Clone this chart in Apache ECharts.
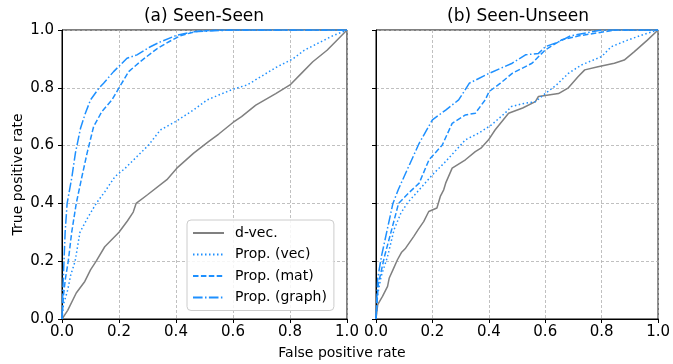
<!DOCTYPE html>
<html>
<head>
<meta charset="utf-8">
<script src="https://cdn.jsdelivr.net/npm/echarts@6/dist/echarts.min.js"></script>
<style>
  html, body { margin: 0; padding: 0; background: #fff; }
  #chart { width: 673px; height: 364px; }
</style>
</head>
<body>
<div id="chart"></div>
<script>
// ROC points [false positive rate, true positive rate]
const seriesNames = ['d-vec.', 'Prop. (vec)', 'Prop. (mat)', 'Prop. (graph)']

// (a) Seen-Seen
const seenDvec = [[0,0],[0.02,0.03],[0.05,0.09],[0.08,0.13],[0.1,0.17],[0.12,0.2],[0.15,0.25],[0.2,0.3],[0.23,0.34],[0.25,0.37],[0.26,0.4],[0.3,0.43],[0.368,0.482],[0.403,0.522],[0.462,0.574],[0.514,0.614],[0.55,0.64],[0.6,0.68],[0.63,0.7],[0.68,0.74],[0.75,0.78],[0.8,0.81],[0.84,0.85],[0.88,0.89],[0.93,0.93],[0.97,0.97],[1,1]]
const seenVec = [[0,0],[0.005,0.05],[0.02,0.1],[0.03,0.15],[0.046,0.2],[0.063,0.3],[0.09,0.35],[0.12,0.4],[0.15,0.44],[0.186,0.493],[0.22,0.52],[0.263,0.562],[0.304,0.602],[0.345,0.654],[0.398,0.683],[0.461,0.723],[0.509,0.758],[0.55,0.775],[0.6,0.795],[0.65,0.81],[0.7,0.84],[0.75,0.87],[0.81,0.9],[0.85,0.93],[0.89,0.95],[0.95,0.98],[1,1]]
const seenMat = [[0,0],[0.005,0.08],[0.012,0.14],[0.022,0.2],[0.034,0.3],[0.05,0.4],[0.07,0.493],[0.088,0.574],[0.111,0.666],[0.14,0.718],[0.175,0.758],[0.199,0.798],[0.234,0.856],[0.275,0.891],[0.333,0.935],[0.38,0.962],[0.415,0.98],[0.47,0.995],[0.55,1],[1,1]]
const seenGraph = [[0,0],[0.003,0.1],[0.007,0.2],[0.011,0.3],[0.018,0.4],[0.035,0.493],[0.047,0.574],[0.065,0.66],[0.082,0.712],[0.1,0.758],[0.129,0.798],[0.146,0.816],[0.181,0.856],[0.228,0.902],[0.263,0.914],[0.31,0.942],[0.345,0.959],[0.403,0.982],[0.462,0.994],[0.6,1],[1,1]]

// (b) Seen-Unseen
const unseenDvec = [[0,0],[0.006,0.05],[0.023,0.078],[0.041,0.113],[0.047,0.142],[0.06,0.17],[0.076,0.205],[0.09,0.23],[0.105,0.245],[0.134,0.286],[0.15,0.31],[0.169,0.337],[0.187,0.372],[0.216,0.384],[0.228,0.424],[0.24,0.447],[0.247,0.47],[0.27,0.522],[0.317,0.551],[0.352,0.579],[0.372,0.591],[0.399,0.62],[0.422,0.654],[0.47,0.712],[0.52,0.73],[0.565,0.752],[0.576,0.77],[0.647,0.78],[0.682,0.8],[0.717,0.839],[0.74,0.862],[0.787,0.873],[0.845,0.885],[0.88,0.896],[0.916,0.925],[0.962,0.965],[1,1]]
const unseenVec = [[0,0],[0.005,0.08],[0.018,0.147],[0.041,0.216],[0.064,0.309],[0.088,0.366],[0.111,0.401],[0.153,0.447],[0.2,0.499],[0.247,0.545],[0.317,0.62],[0.364,0.643],[0.41,0.672],[0.457,0.712],[0.48,0.735],[0.52,0.745],[0.565,0.752],[0.6,0.78],[0.64,0.81],[0.682,0.85],[0.728,0.879],[0.8,0.908],[0.834,0.942],[0.892,0.965],[0.95,0.985],[1,1]]
const unseenMat = [[0,0],[0.008,0.12],[0.03,0.216],[0.053,0.3],[0.08,0.4],[0.12,0.44],[0.153,0.47],[0.188,0.551],[0.235,0.602],[0.27,0.677],[0.317,0.706],[0.352,0.712],[0.387,0.758],[0.401,0.787],[0.44,0.815],[0.483,0.85],[0.553,0.885],[0.6,0.931],[0.658,0.966],[0.72,0.98],[0.85,1],[1,1]]
const unseenGraph = [[0,0],[0.006,0.14],[0.02,0.22],[0.04,0.31],[0.06,0.4],[0.08,0.45],[0.103,0.5],[0.153,0.608],[0.2,0.689],[0.247,0.723],[0.293,0.758],[0.331,0.816],[0.401,0.85],[0.483,0.885],[0.53,0.914],[0.576,0.919],[0.6,0.942],[0.65,0.96],[0.69,0.98],[0.8,1],[1,1]]

const gray = '#808080'
const blue = '#1e90ff'
const font = 'DejaVu Sans'

const styles = [
  { color: gray, type: 'solid' },
  { color: blue, type: [1.5, 2.5] },
  { color: blue, type: [5.5, 2.4] },
  { color: blue, type: [9.6, 2.4, 1.5, 2.4] },
]

function makeSeries(data, idx, axis) {
  return {
    name: seriesNames[idx],
    type: 'line',
    xAxisIndex: axis,
    yAxisIndex: axis,
    data,
    showSymbol: false,
    symbol: 'none',
    lineStyle: { color: styles[idx].color, type: styles[idx].type, width: 1.5 },
    itemStyle: { color: styles[idx].color },
    z: 3,
  }
}

const splitStyle = { color: '#b0b0b0', type: [3, 2], width: 0.8 }

function xAx(gridIndex) {
  return {
    type: 'value', gridIndex, min: 0, max: 1, interval: 0.2,
    axisLine: { show: true, onZero: false, lineStyle: { color: '#000', width: 1 } },
    axisTick: { show: true, length: 4, lineStyle: { color: '#000' } },
    axisLabel: { fontFamily: font, fontSize: 15, color: '#000', margin: 6, formatter: v => v.toFixed(1) },
    splitLine: { show: true, lineStyle: splitStyle },
  }
}

function yAx(gridIndex, labels) {
  return {
    type: 'value', gridIndex, min: 0, max: 1, interval: 0.2,
    name: labels ? 'True positive rate' : '',
    nameLocation: 'middle',
    nameGap: 37,
    nameTextStyle: { fontFamily: font, fontSize: 14, color: '#000' },
    axisLine: { show: true, onZero: false, lineStyle: { color: '#000', width: 1 } },
    axisTick: { show: true, length: 4, lineStyle: { color: '#000' } },
    axisLabel: { show: labels, fontFamily: font, fontSize: 15, color: '#000', margin: 8, formatter: v => v.toFixed(1) },
    splitLine: { show: true, lineStyle: splitStyle },
  }
}

const titleStyle = { fontFamily: font, fontSize: 17, fontWeight: 'normal', color: '#000' }

const chart = echarts.init(document.getElementById('chart'), null, { renderer: 'canvas' })
chart.setOption({
  backgroundColor: '#fff',
  animation: false,
  title: [
    { text: '(a) Seen-Seen', left: 204, top: 8, padding: 0, textAlign: 'center', textStyle: titleStyle },
    { text: '(b) Seen-Unseen', left: 518, top: 8, padding: 0, textAlign: 'center', textStyle: titleStyle },
    { text: 'False positive rate', left: 342, top: 346, padding: 0, textAlign: 'center',
      textStyle: { fontFamily: font, fontSize: 14, fontWeight: 'normal', color: '#000' } },
  ],
  grid: [
    { left: 62, top: 30, width: 285, height: 289, show: true, borderColor: '#000', borderWidth: 1, backgroundColor: 'transparent' },
    { left: 376, top: 30, width: 285, height: 289, show: true, borderColor: '#000', borderWidth: 1, backgroundColor: 'transparent' },
  ],
  xAxis: [xAx(0), xAx(1)],
  yAxis: [yAx(0, true), yAx(1, false)],
  legend: {
    orient: 'vertical',
    left: 187, top: 220,
    data: seriesNames,
    itemWidth: 31, itemHeight: 14, itemGap: 7.5,
    padding: [6, 7, 6, 5],
    backgroundColor: 'rgba(255,255,255,0.85)',
    borderColor: '#cccccc', borderWidth: 1, borderRadius: 4,
    itemStyle: { opacity: 0 },
    textStyle: { fontFamily: font, fontSize: 14, color: '#000', padding: [0, 0, 0, 6] },
  },
  series: [
    makeSeries(seenDvec, 0, 0),
    makeSeries(seenVec, 1, 0),
    makeSeries(seenMat, 2, 0),
    makeSeries(seenGraph, 3, 0),
    makeSeries(unseenDvec, 0, 1),
    makeSeries(unseenVec, 1, 1),
    makeSeries(unseenMat, 2, 1),
    makeSeries(unseenGraph, 3, 1),
  ],
})
</script>
</body>
</html>
